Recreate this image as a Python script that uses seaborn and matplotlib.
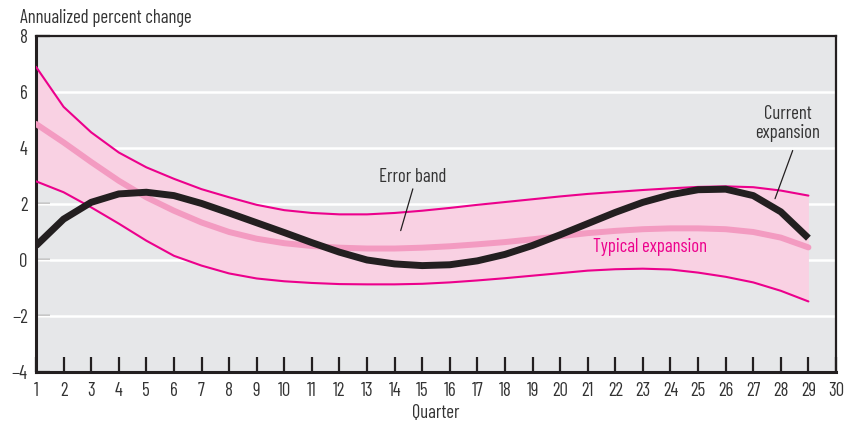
import numpy as np
import pandas as pd
import matplotlib
matplotlib.use("Agg")
import matplotlib.pyplot as plt
import seaborn as sns

# --- Data ---
quarters = list(range(1, 30))
band_upper = [6.90, 5.47, 4.56, 3.84, 3.31, 2.90, 2.53, 2.24, 1.97, 1.78,
              1.68, 1.63, 1.63, 1.68, 1.76, 1.86, 1.97, 2.07, 2.17, 2.27,
              2.36, 2.43, 2.50, 2.56, 2.61, 2.63, 2.60, 2.48, 2.30]
typical = [4.86, 4.20, 3.50, 2.83, 2.24, 1.76, 1.34, 1.00, 0.76, 0.60,
           0.50, 0.44, 0.41, 0.41, 0.44, 0.49, 0.56, 0.64, 0.74, 0.85,
           0.96, 1.04, 1.10, 1.13, 1.13, 1.10, 1.00, 0.80, 0.45]
band_lower = [2.81, 2.42, 1.88, 1.30, 0.69, 0.15, -0.20, -0.48, -0.66, -0.76,
              -0.82, -0.86, -0.87, -0.87, -0.85, -0.80, -0.73, -0.65, -0.56, -0.47,
              -0.38, -0.33, -0.31, -0.34, -0.45, -0.60, -0.80, -1.10, -1.48]
current = [0.51, 1.46, 2.06, 2.36, 2.42, 2.30, 2.02, 1.68, 1.33, 0.98,
           0.62, 0.28, 0.00, -0.14, -0.20, -0.17, -0.03, 0.20, 0.52, 0.90,
           1.30, 1.70, 2.06, 2.33, 2.51, 2.53, 2.30, 1.72, 0.78]
x_ticks = list(range(1, 31))
y_ticks = [-4, -2, 0, 2, 4, 6, 8]

df = pd.DataFrame({"quarter": quarters, "upper": band_upper, "typical": typical,
                   "lower": band_lower, "current": current})

# --- Colours ---
BG = "#e6e7e9"
BAND_FILL = "#f9d1e3"
MAGENTA = "#ec008c"
TYPICAL_PINK = "#f39bc1"
DARK = "#231f20"
TEXT = "#333333"
FS = 13.5

sns.set_style("white", {"axes.facecolor": BG})
plt.rcParams["font.family"] = ["Barlow Condensed", "Barlow Semi Condensed",
                               "Liberation Sans Narrow", "DejaVu Sans"]
plt.rcParams["font.size"] = FS

fig = plt.figure(figsize=(8.46, 4.23), dpi=100)
ax = fig.add_axes([36 / 846, 51 / 423, 800 / 846, 336 / 423])
ax.set_facecolor(BG)

# white horizontal gridlines
for yv in [-2, 0, 2, 4, 6]:
    ax.axhline(yv, color="white", lw=1.8, zorder=1)

# error band
ax.fill_between(df["quarter"], df["lower"], df["upper"], color=BAND_FILL, lw=0, zorder=2)
sns.lineplot(data=df, x="quarter", y="upper", ax=ax, color=MAGENTA, lw=1.5, zorder=3)
sns.lineplot(data=df, x="quarter", y="lower", ax=ax, color=MAGENTA, lw=1.5, zorder=3)
sns.lineplot(data=df, x="quarter", y="typical", ax=ax, color=TYPICAL_PINK, lw=4.3,
             solid_capstyle="round", zorder=4)
sns.lineplot(data=df, x="quarter", y="current", ax=ax, color=DARK, lw=5,
             solid_capstyle="butt", zorder=5)

# --- Axes ---
ax.set_xlim(1, 30)
ax.set_ylim(-4, 8)
ax.set_xticks(x_ticks)
ax.set_yticks(y_ticks)
ax.tick_params(axis="x", bottom=True, direction="in", length=11, width=1.6, color=DARK,
               pad=7, labelsize=FS, labelcolor=TEXT)
ax.tick_params(axis="y", left=True, direction="in", length=10, width=1.6, color=DARK,
               pad=6, labelsize=FS, labelcolor=TEXT)
for side, lw in [("left", 2.2), ("bottom", 2.2), ("top", 1.6), ("right", 1.6)]:
    ax.spines[side].set_visible(True)
    ax.spines[side].set_color(DARK)
    ax.spines[side].set_linewidth(lw)
ax.set_xlabel("Quarter", color=TEXT, fontsize=FS, labelpad=3)
ax.set_ylabel("")

fig.text(20 / 846, 1 - 18 / 423, "Annualized percent change", color=TEXT,
         fontsize=FS, ha="left", va="center")

# --- Annotations ---
ax.text(14.67, 2.95, "Error band", color=TEXT, ha="center", va="center", zorder=6)
ax.plot([14.66, 14.22], [2.54, 1.05], color=DARK, lw=0.9, zorder=6)
ax.text(28.26, 4.87, "Current\nexpansion", color=TEXT, ha="center", va="center",
        linespacing=1.05, zorder=6)
ax.plot([28.43, 27.79], [3.91, 2.19], color=DARK, lw=0.9, zorder=6)
ax.text(21.2, 0.48, "Typical expansion", color=MAGENTA, ha="left", va="center", zorder=6)

fig.savefig("out.png", dpi=100)
plt.close(fig)
